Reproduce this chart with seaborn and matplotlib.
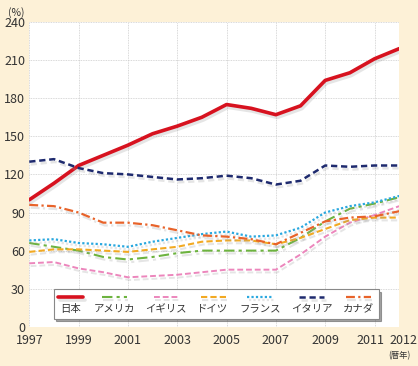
import numpy as np
import pandas as pd
import matplotlib
matplotlib.use("Agg")
import matplotlib.pyplot as plt
import matplotlib.patheffects as pe
import matplotlib.transforms as mtransforms
from matplotlib.offsetbox import VPacker
import seaborn as sns

years = list(range(1997, 2013))
japan   = [100, 113, 127, 135, 143, 152, 158, 165, 175, 172, 167, 174, 194, 200, 211, 219]
usa     = [66, 63, 60, 55, 53, 55, 58, 60, 60, 60, 60, 70, 83, 93, 97, 102]
uk      = [50, 51, 46, 43, 39, 40, 41, 43, 45, 45, 45, 57, 71, 82, 88, 95]
germany = [59, 61, 61, 60, 59, 61, 63, 67, 68, 68, 65, 70, 77, 84, 86, 86]
france  = [68, 69, 66, 65, 63, 67, 70, 73, 75, 71, 72, 78, 90, 95, 98, 103]
italy   = [130, 132, 125, 121, 120, 118, 116, 117, 119, 117, 112, 115, 127, 126, 127, 127]
canada  = [96, 95, 90, 82, 82, 80, 76, 72, 71, 69, 65, 74, 83, 86, 87, 91]

names = ["日本", "アメリカ", "イギリス", "ドイツ", "フランス", "イタリア", "カナダ"]
series = [japan, usa, uk, germany, france, italy, canada]
colors = ["#D7121F", "#6DB33F", "#EC86BC", "#F2A922", "#2AA8DF", "#1E2A6E", "#E8632A"]
styles = ["-", (0, (5, 2, 1.5, 2)), (0, (3, 1.5)), (0, (3, 1.5)),
          (0, (1, 1)), (0, (2.5, 1.5)), (0, (4, 1.5, 1, 1.5))]
widths = [2.6, 1.5, 1.4, 1.5, 1.6, 1.8, 1.6]

df = pd.DataFrame({"year": years})
for n, s in zip(names, series):
    df[n] = s

sns.set_style("white")
plt.rcParams['font.family'] = ['Noto Sans CJK JP', 'DejaVu Sans']

bg = "#FDF1D7"
fig = plt.figure(figsize=(4.18, 3.66), dpi=100, facecolor=bg)
ax = fig.add_axes([0.070, 0.107, 0.885, 0.833])
ax.set_facecolor("white")

shadow = [pe.SimpleLineShadow(offset=(1, -2), shadow_color="#999999", alpha=0.25), pe.Normal()]
handles = []
for n, c, ls, lw in zip(names, colors, styles, widths):
    sns.lineplot(data=df, x="year", y=n, ax=ax, color=c, linestyle=ls, lw=lw,
                 path_effects=shadow, label=n)
    handles.append(ax.get_lines()[-1])

ax.set_xlim(1997, 2012)
ax.set_ylim(0, 240)
ax.set_xticks([1997, 1999, 2001, 2003, 2005, 2007, 2009, 2011, 2012])
ax.set_yticks(np.arange(0, 241, 30))
ax.tick_params(axis="both", length=0, labelsize=9, labelcolor="#333333")
ax.tick_params(axis="x", pad=5)
ax.tick_params(axis="y", pad=3)
ax.grid(True, color="#cccccc", linestyle=(0, (1, 1)), lw=0.6)
for sp in ax.spines.values():
    sp.set_visible(False)
ax.set_xlabel("")
ax.set_ylabel("")

# nudge the two crowded labels at the right end apart
xt = ax.get_xticklabels()
xt[-2].set_transform(xt[-2].get_transform() + mtransforms.ScaledTranslation(-3 / 72, 0, fig.dpi_scale_trans))
xt[-1].set_transform(xt[-1].get_transform() + mtransforms.ScaledTranslation(3 / 72, 0, fig.dpi_scale_trans))

fig.text(0.038, 0.967, "(%)", fontsize=7.5, color="#333333", ha="center", va="center")
fig.text(0.955, 0.028, "(暦年)", fontsize=6, color="#333333", ha="center", va="center")

leg = ax.legend(handles=handles, labels=names, ncol=7, loc="lower center",
                bbox_to_anchor=(0.505, 0.01), frameon=True, fancybox=False,
                shadow=True, edgecolor="#888888", fontsize=7.5,
                handlelength=2.4, columnspacing=1.0, borderpad=0.45)
leg.get_frame().set_linewidth(0.8)
for t in leg.get_texts():
    t.set_color("#333333")
# place each line sample above its label
for col in leg._legend_handle_box.get_children():
    new_items = []
    for item in col.get_children():
        kids = item.get_children()
        new_items.append(VPacker(pad=0, sep=2, children=[kids[0], kids[1]], align="center"))
    col._children = new_items

fig.savefig("out.png", dpi=100, facecolor=bg)
